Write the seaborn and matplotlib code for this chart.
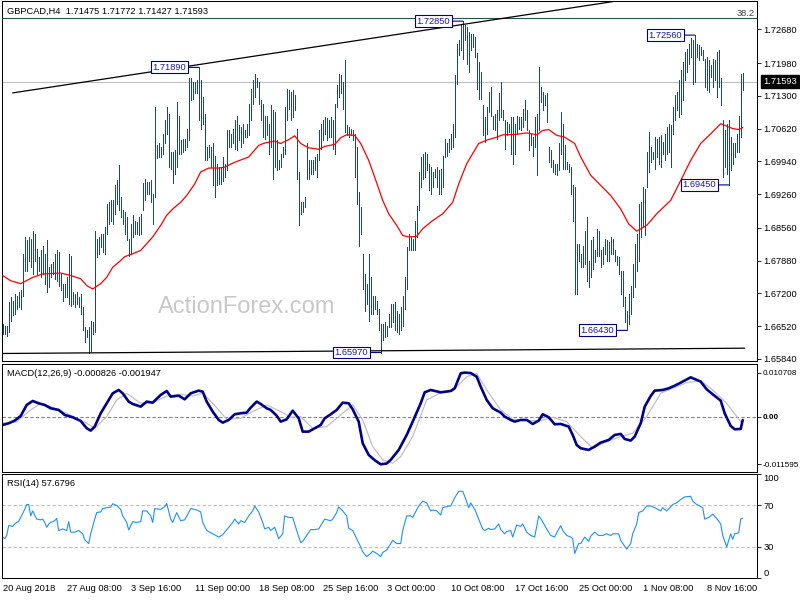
import numpy as np
import matplotlib
matplotlib.use("Agg")
import matplotlib.pyplot as plt
from matplotlib.transforms import blended_transform_factory
import seaborn as sns

sns.set_style("white")
plt.rcParams["font.family"] = ["Liberation Sans", "DejaVu Sans"]

# ---- data (prices stored as pips above 1.6000) ----
base_price = 1.6
high_pips = [
    657, 653, 653, 701, 712, 705, 719, 715, 722, 726,
    802, 837, 830, 837, 833, 850, 844, 812, 795, 809,
    819, 802, 830, 774, 781, 785, 802, 809, 805, 760,
    740, 740, 753, 802, 798, 722, 719, 722, 712, 719,
    691, 649, 643, 649, 663, 660, 850, 833, 837, 844,
    844, 857, 906, 909, 913, 913, 944, 955, 986, 920,
    892, 889, 878, 833, 864, 882, 871, 868, 878, 885,
    948, 958, 951, 951, 955, 927, 1107, 1027, 1031, 1024,
    1051, 1079, 1107, 1093, 1013, 1013, 1017, 1117, 1089, 1038,
    1041, 1041, 1062, 1166, 1166, 1159, 1159, 1162, 1189, 1162,
    1128, 1093, 1024, 1027, 1024, 1031, 1006, 989, 982, 982,
    1003, 989, 1058, 1058, 1051, 1062, 1079, 1089, 1069, 1065,
    1072, 1058, 1072, 1114, 1145, 1162, 1176, 1166, 1159, 1121,
    1114, 1089, 1089, 1072, 1110, 1100, 1096, 1038, 996, 1010,
    1024, 1107, 1145, 1141, 1138, 1141, 1131, 1062, 972, 909,
    909, 920, 1031, 996, 996, 996, 1003, 1010, 1058, 1072,
    1079, 1086, 1083, 1079, 1086, 1079, 1114, 1152, 1176, 1173,
    1159, 1204, 1069, 1065, 1062, 1058, 1051, 1024, 930, 899,
    802, 760, 740, 802, 753, 715, 715, 705, 688, 656,
    656, 660, 653, 677, 698, 698, 701, 684, 677, 691,
    715, 753, 816, 843, 837, 833, 871, 902, 972, 1003,
    1010, 1013, 1010, 989, 982, 972, 979, 982, 975, 979,
    1006, 1041, 1031, 1041, 1051, 1072, 1173, 1238, 1245, 1277,
    1285, 1277, 1273, 1263, 1259, 1259, 1252, 1218, 1200, 1180,
    1110, 1086, 1107, 1138, 1148, 1089, 1093, 1100, 1135, 1159,
    1100, 1079, 1076, 1072, 1086, 1086, 1072, 1089, 1086, 1086,
    1103, 1121, 1100, 1058, 1051, 1044, 1086, 1093, 1190, 1148,
    1138, 1131, 1135, 1024, 1017, 996, 989, 989, 1031, 1096,
    1072, 1027, 992, 989, 982, 944, 940, 823, 823, 802,
    819, 850, 878, 788, 830, 837, 809, 854, 850, 809,
    816, 833, 830, 826, 837, 833, 809, 798, 795, 767,
    767, 712, 684, 719, 736, 781, 823, 843, 906, 909,
    941, 937, 1013, 1055, 1024, 1013, 1044, 1041, 1044, 1048,
    1034, 1051, 1065, 1072, 1069, 1107, 1131, 1138, 1162, 1183,
    1200, 1221, 1228, 1238, 1249, 1245, 1256, 1238, 1235, 1232,
    1225, 1207, 1211, 1204, 1193, 1207, 1204, 1221, 1225, 1166,
    1079, 1058, 1072, 1079, 1044, 1031, 1031, 1051, 1089, 1176,
    1177,
]
low_pips = [
    636, 636, 632, 639, 663, 674, 677, 688, 691, 688,
    715, 767, 767, 788, 774, 760, 788, 760, 767, 753,
    760, 740, 722, 733, 753, 760, 750, 746, 736, 726,
    705, 712, 712, 698, 694, 698, 691, 698, 691, 677,
    643, 618, 629, 597, 601, 636, 639, 795, 802, 816,
    805, 802, 844, 864, 871, 864, 885, 906, 892, 878,
    864, 844, 830, 798, 802, 837, 844, 844, 840, 844,
    892, 913, 927, 927, 909, 864, 920, 1000, 1003, 1003,
    1010, 1031, 1051, 982, 979, 948, 968, 982, 1010, 1010,
    1013, 1017, 1024, 1038, 1121, 1124, 1135, 1135, 1079, 1062,
    1072, 996, 996, 1003, 982, 944, 920, 944, 947, 947,
    954, 961, 975, 1024, 1024, 1031, 1020, 1017, 1038, 1024,
    1031, 1044, 1044, 1048, 1079, 1114, 1128, 1148, 1114, 1079,
    1044, 1041, 1048, 1010, 1024, 958, 982, 975, 979, 982,
    1003, 1010, 1079, 1103, 1079, 1086, 1100, 958, 861, 885,
    889, 899, 958, 958, 968, 968, 975, 961, 996, 1020,
    1038, 1051, 1038, 1044, 1044, 1020, 1010, 1107, 1128, 1135,
    1103, 1055, 1048, 1044, 1048, 1038, 961, 906, 819, 843,
    729, 684, 698, 663, 677, 677, 688, 677, 643, 597,
    622, 629, 632, 649, 649, 660, 643, 639, 636, 643,
    653, 688, 729, 809, 809, 809, 809, 837, 892, 940,
    958, 961, 975, 934, 927, 940, 961, 940, 927, 927,
    940, 1003, 1006, 1013, 1020, 1024, 1044, 1155, 1214, 1225,
    1207, 1245, 1197, 1180, 1225, 1232, 1211, 1145, 1124, 1124,
    1048, 1034, 1051, 1096, 1089, 1062, 1058, 1041, 1079, 1086,
    1079, 1020, 1048, 1055, 1010, 989, 1010, 1051, 1062, 1058,
    1065, 1079, 1058, 1017, 1027, 1006, 1024, 965, 1058, 1117,
    1100, 1110, 1076, 992, 982, 972, 968, 965, 975, 1010,
    979, 979, 979, 972, 927, 871, 719, 719, 788, 774,
    774, 781, 746, 733, 753, 771, 785, 798, 798, 774,
    781, 802, 788, 788, 802, 802, 788, 778, 760, 719,
    694, 660, 643, 656, 677, 712, 733, 767, 788, 837,
    857, 840, 940, 972, 992, 999, 979, 1003, 989, 982,
    1010, 996, 1010, 1013, 982, 1051, 1079, 1100, 1086, 1093,
    1121, 1162, 1180, 1197, 1211, 1155, 1159, 1211, 1204, 1214,
    1204, 1148, 1141, 1138, 1169, 1148, 1162, 1128, 1148, 1110,
    961, 982, 968, 945, 975, 989, 1003, 1013, 1013, 1044,
    1143,
]

ma_bar = [0, 4, 9, 15, 20, 29, 34, 39, 42, 45, 49, 52, 55, 59, 61, 65, 69, 72, 75, 79,
          82, 85, 89, 92, 96, 99, 103, 108, 111, 116, 123, 128, 131, 136, 139, 143, 146,
          149, 153, 158, 161, 166, 169, 172, 176, 179, 183, 186, 190, 193, 197, 200, 203,
          207, 210, 215, 220, 225, 228, 232, 235, 238, 242, 247, 250, 257, 262, 267, 270,
          273, 277, 281, 286, 289, 294, 299, 304, 309, 313, 317, 322, 327, 334, 339, 344,
          349, 354, 359, 362, 365, 368, 370]
ma_pips = [757, 746, 740, 753, 760, 762, 757, 750, 736, 729, 740, 753, 774, 788, 796, 802,
           809, 823, 837, 861, 882, 895, 909, 923, 947, 972, 980, 980, 982, 992, 1003, 1027,
           1032, 1036, 1031, 1039, 1047, 1031, 1022, 1019, 1025, 1029, 1043, 1049, 1048, 1031,
           996, 961, 913, 885, 861, 840, 837, 838, 854, 871, 885, 909, 947, 989, 1010, 1031,
           1038, 1044, 1049, 1050, 1053, 1049, 1058, 1060, 1048, 1044, 1031, 1003, 965, 944,
           923, 895, 864, 849, 861, 885, 913, 954, 996, 1031, 1051, 1072, 1067, 1062, 1060, 1064]

macd_bar = [0, 3, 6, 9, 12, 15, 18, 21, 24, 28, 31, 35, 39, 42, 44, 46, 49, 52, 55, 58,
            60, 63, 65, 69, 72, 75, 79, 82, 84, 88, 91, 94, 98, 100, 102, 105, 108, 110, 113, 116,
            119, 122, 124, 127, 129, 132, 134, 137, 139, 142, 145, 148, 150, 153, 156, 159, 161,
            164, 167, 170, 173, 175, 178, 180, 183, 186, 189, 192, 194, 198, 202, 205, 209, 211,
            214, 219, 224, 226, 229, 231, 234, 237, 239, 242, 245, 249, 251, 254, 256, 259, 262,
            265, 268, 270, 273, 276, 279, 283, 285, 287, 289, 293, 296, 299, 303, 306, 309, 311,
            314, 316, 319, 321, 324, 326, 330, 333, 336, 339, 344, 346, 349, 352, 355, 359, 361,
            364, 366, 369, 370]
macd_val = [-0.00203, -0.00162, -0.00097, 0.00016, 0.00284, 0.00381, 0.00324, 0.00284, 0.00203, 0.00162,
            0.00041, -0.00016, -0.00105, -0.00284, -0.00340, -0.00243, 0.00081, 0.00324, 0.00567, 0.00648,
            0.00567, 0.00365, 0.00308, 0.00243, 0.00365, 0.00340, 0.00527, 0.00624, 0.00486, 0.00510,
            0.00421, 0.00567, 0.00632, 0.00608, 0.00365, 0.00122, -0.00081, -0.00146, -0.00081, 0.00057,
            0.00081, 0.00097, 0.00219, 0.00365, 0.00308, 0.00203, 0.00162, 0.00024, -0.00122, -0.00065,
            0.00146, -0.00041, -0.00365, -0.00365, -0.00284, -0.00203, -0.00041, 0.00057, 0.00162, 0.00340,
            0.00324, 0.00178, -0.00122, -0.00648, -0.00932, -0.01060, -0.01160, -0.01140, -0.01053, -0.00810,
            -0.00446, -0.00122, 0.00324, 0.00591, 0.00648, 0.00591, 0.00624, 0.00689, 0.01053, 0.01071,
            0.01060, 0.00972, 0.00729, 0.00405, 0.00203, 0.00097, 0.0, -0.00081, -0.00122, -0.00081,
            -0.00081, -0.00178, -0.00097, 0.00057, -0.00016, -0.00186, -0.00178, -0.00243, -0.00446, -0.00689,
            -0.00770, -0.00810, -0.00729, -0.00632, -0.00567, -0.00446, -0.00421, -0.00543, -0.00583, -0.00486,
            -0.00162, 0.00243, 0.00502, 0.00632, 0.00648, 0.00689, 0.00753, 0.00826, 0.00956, 0.00915,
            0.00851, 0.00664, 0.00543, 0.00389, 0.00081, -0.00227, -0.00308, -0.00300, -0.00083]

signal_bar = [0, 7, 14, 19, 24, 32, 42, 46, 52, 57, 62, 69, 75, 82, 89, 95, 100, 105, 112, 119,
              125, 132, 139, 144, 149, 155, 162, 169, 175, 180, 185, 190, 195, 199, 205, 212, 219,
              225, 232, 237, 242, 249, 255, 262, 269, 275, 282, 289, 295, 302, 309, 315, 322, 329,
              335, 342, 349, 355, 362, 369, 370]
signal_val = [-0.00162, -0.00122, 0.00162, 0.00324, 0.00243, 0.00081, -0.00162, -0.00284, 0.0, 0.00405,
              0.00567, 0.00324, 0.00340, 0.00502, 0.00543, 0.00502, 0.00567, 0.00324, -0.00065, -0.00041,
              0.00122, 0.00284, 0.00122, -0.00016, 0.0, -0.00284, -0.00243, 0.00041, 0.00284, -0.00081,
              -0.00729, -0.01053, -0.01134, -0.00972, -0.00486, 0.00405, 0.00583, 0.00624, 0.00972, 0.01053,
              0.00648, 0.00162, -0.00065, -0.00097, -0.00097, -0.00016, -0.00122, -0.00486, -0.00770, -0.00608,
              -0.00486, -0.00405, 0.0, 0.00567, 0.00689, 0.00826, 0.00875, 0.00648, 0.00324, -0.00122,
              -0.00195]

rsi_bar = [0, 1, 2, 3, 5, 6, 7, 8, 9, 11, 12, 13, 14, 15, 17, 19, 20, 21, 22, 23,
           24, 26, 27, 28, 30, 32, 33, 34, 36, 38, 40, 41, 43, 44, 46, 47, 49, 50, 52, 54,
           55, 57, 59, 60, 62, 63, 65, 67, 69, 70, 72, 74, 75, 76, 79, 81, 82, 84, 85, 87,
           89, 91, 93, 94, 97, 99, 100, 102, 105, 108, 110, 113, 115, 116, 118, 119, 121, 123, 125, 126,
           128, 130, 131, 133, 134, 136, 138, 140, 141, 143, 145, 147, 149, 150, 152, 154, 156, 158, 160, 161,
           164, 165, 167, 168, 170, 172, 173, 175, 177, 179, 180, 182, 184, 185, 187, 189, 190, 192, 194, 195,
           197, 199, 200, 202, 204, 205, 208, 210, 212, 214, 215, 217, 219, 220, 223, 224, 226, 228, 230, 231,
           233, 234, 236, 238, 240, 241, 243, 244, 246, 248, 249, 251, 252, 254, 255, 257, 259, 260, 262, 264,
           266, 268, 269, 272, 274, 276, 277, 279, 280, 282, 284, 285, 286, 288, 289, 291, 293, 294, 296, 298,
           300, 302, 304, 305, 308, 309, 312, 314, 315, 317, 318, 320, 322, 324, 326, 329, 330, 332, 334, 335,
           337, 339, 341, 344, 345, 347, 348, 350, 351, 353, 355, 357, 359, 360, 362, 364, 365, 366, 368, 369,
           370]
rsi_val = [39.5, 37.9, 41.0, 50.5, 49.8, 52.1, 53.6, 54.6, 58.4, 66.2, 70.9, 70.9, 59.9, 64.7, 56.8, 56.1, 56.8, 53.6, 48.9, 52.1,
           53.6, 55.2, 57.4, 45.8, 47.3, 45.8, 54.3, 44.2, 44.2, 45.8, 42.6, 36.9, 33.2, 42.6, 56.8, 63.1, 63.7, 66.9, 67.8, 68.4,
           71.6, 70.0, 66.2, 59.9, 53.6, 46.4, 54.3, 53.6, 54.3, 64.7, 64.7, 59.9, 53.6, 66.9, 66.2, 68.7, 71.9, 56.8, 53.6, 63.1,
           55.2, 56.1, 63.1, 66.9, 65.6, 63.7, 53.6, 45.8, 42.6, 39.5, 41.7, 48.9, 53.6, 56.8, 52.1, 55.2, 53.6, 59.9, 64.7, 69.4,
           63.7, 53.6, 47.3, 48.9, 45.8, 48.9, 37.9, 42.6, 59.9, 58.4, 58.4, 45.8, 34.1, 35.4, 41.0, 46.7, 46.7, 47.3, 53.6, 56.8,
           55.2, 56.8, 63.1, 68.7, 64.7, 59.9, 48.0, 45.8, 37.9, 30.0, 25.3, 20.6, 23.7, 25.9, 23.7, 20.6, 24.6, 26.9, 33.2, 36.3,
           33.2, 33.2, 45.8, 59.9, 59.9, 58.4, 69.4, 74.1, 72.5, 64.7, 65.6, 64.7, 60.6, 67.8, 69.4, 69.4, 77.3, 83.6, 83.6, 78.8,
           67.8, 72.5, 66.2, 56.8, 47.3, 45.8, 48.0, 46.7, 47.3, 52.1, 46.7, 42.6, 44.9, 45.8, 39.5, 51.1, 49.8, 52.1, 44.2, 41.0,
           39.5, 59.9, 57.4, 47.3, 41.0, 39.5, 43.6, 50.5, 45.8, 41.0, 39.5, 37.9, 23.7, 33.2, 33.2, 39.5, 35.4, 40.4, 44.2, 41.0,
           41.0, 42.6, 41.0, 42.6, 42.6, 36.3, 27.8, 33.2, 42.6, 52.1, 63.1, 64.7, 69.4, 69.4, 67.8, 64.7, 67.8, 64.7, 68.7, 70.9,
           72.5, 75.7, 78.2, 78.8, 74.1, 70.9, 70.0, 67.8, 56.8, 58.4, 61.5, 57.4, 52.1, 41.0, 30.0, 42.6, 37.3, 42.6, 43.6, 56.8,
           57.68]

swing_bars = [98, 230, 346, 189, 312, 363]
swing_prices = [1.71890, 1.72850, 1.72560, 1.65970, 1.66430, 1.69450]

upper_trend_bars = [5, 305]
upper_trend_pips = [1136, 1325.5]
lower_trend_bars = [0, 371]
lower_trend_pips = [595, 606]

last_price = 1.71593
fib_level = 1.72925
fib_label = "38.2"
price_ticks = [1.72680, 1.71980, 1.71300, 1.70620, 1.69940, 1.69260, 1.68560,
               1.67880, 1.67200, 1.66520, 1.65840]
macd_ticks = [0.010708, 0.0, -0.011595]
macd_tick_labels = ["0.010708", "0.00", "-0.011595"]
rsi_ticks = [100, 70, 30, 0]
time_tick_bars = list(range(0, 353, 32))
time_tick_labels = ["20 Aug 2018", "27 Aug 08:00", "3 Sep 16:00", "11 Sep 00:00",
                    "18 Sep 08:00", "25 Sep 16:00", "3 Oct 00:00", "10 Oct 08:00",
                    "17 Oct 16:00", "25 Oct 00:00", "1 Nov 08:00", "8 Nov 16:00"]

n = min(len(high_pips), len(low_pips))
bars = np.arange(n)
highs = base_price + np.array(high_pips[:n]) / 10000
lows = base_price + np.array(low_pips[:n]) / 10000
ma_price = base_price + np.array(ma_pips) / 10000

FS = 6.7
BAR_COLOR = "#1d4a6a"

fig = plt.figure(figsize=(8, 6), dpi=100)
fig.patch.set_facecolor("white")
ax = fig.add_axes([0.0025, 0.39833, 0.94375, 0.6])
ax_macd = fig.add_axes([0.0025, 0.21383, 0.94375, 0.1795])
ax_rsi = fig.add_axes([0.0025, 0.03667, 0.94375, 0.17283])

for a in (ax, ax_macd, ax_rsi):
    a.set_xlim(-0.35, 377.15)
    for s in a.spines.values():
        s.set_color("black")
        s.set_linewidth(0.75)
    a.yaxis.tick_right()
    a.tick_params(axis="y", length=3, width=0.6, pad=1.5, labelsize=FS, colors="black")
    a.set_facecolor("white")

# ---- price panel ----
ax.set_ylim(1.65794, 1.73268)
ax.text(0.3245, 0.15, "ActionForex.com", transform=ax.transAxes, fontsize=17,
        color="#c8c8c8", ha="center", va="center", zorder=0)
ax.axhline(last_price, color="#c0c0c0", lw=0.8, zorder=1)
ax.axhline(fib_level, color="#2f4f4f", lw=0.8, zorder=1)
ax.text(0.997, fib_level, fib_label, transform=blended_transform_factory(ax.transAxes, ax.transData),
        ha="right", va="bottom", fontsize=FS, color="#404040")
ax.vlines(bars, lows, highs, colors=BAR_COLOR, linewidth=0.5, antialiased=False, zorder=2)
sns.lineplot(x=ma_bar, y=ma_price, ax=ax, color="red", lw=0.9, estimator=None, sort=False, zorder=3)
ax.plot(upper_trend_bars, base_price + np.array(upper_trend_pips) / 10000, color="black", lw=0.9, zorder=4)
ax.plot(lower_trend_bars, base_price + np.array(lower_trend_pips) / 10000, color="black", lw=0.9, zorder=4)

for b, p in zip(swing_bars, swing_prices):
    ax.annotate(f"{p:.5f}", xy=(b, p), xytext=(-9, 0), textcoords="offset points",
                ha="right", va="center", fontsize=FS, color="#1a1aa0", zorder=5,
                bbox=dict(boxstyle="square,pad=0.15", fc="white", ec="#000080", lw=0.8),
                arrowprops=dict(arrowstyle="-", color="#000080", lw=0.8,
                                shrinkA=0, shrinkB=0, relpos=(1, 0.5)))

ax.set_yticks(price_ticks)
ax.set_yticklabels([f"{t:.5f}" for t in price_ticks])
ax.set_xticks([])
ax.text(1.008, last_price, f"{last_price:.5f}", transform=blended_transform_factory(ax.transAxes, ax.transData),
        ha="left", va="center", fontsize=FS, color="white", clip_on=False,
        bbox=dict(boxstyle="square,pad=0.2", fc="black", ec="black"))
ax.text(0.0066, 0.9708, "GBPCAD,H4  1.71475 1.71772 1.71427 1.71593", transform=ax.transAxes,
        ha="left", va="center", fontsize=FS, color="black")

# ---- MACD panel ----
ax_macd.set_ylim(-0.0134, 0.0128)
ax_macd.axhline(0, color="#808080", lw=0.8, ls=(0, (3, 2)))
sns.lineplot(x=signal_bar, y=signal_val, ax=ax_macd, color="#c0c0c0", lw=0.9, estimator=None, sort=False)
sns.lineplot(x=macd_bar, y=macd_val, ax=ax_macd, color="#000088", lw=1.9, estimator=None, sort=False)
ax_macd.set_yticks(macd_ticks)
ax_macd.set_yticklabels(macd_tick_labels)
ax_macd.tick_params(axis="y", labelsize=5.9, pad=1.0)
ax_macd.get_yticklabels()[1].set_fontweight("bold")
ax_macd.set_xticks([])
ax_macd.set_xlabel("")
ax_macd.set_ylabel("")
ax_macd.text(0.0066, 0.9118, "MACD(12,26,9) -0.000826 -0.001947", transform=ax_macd.transAxes,
             ha="left", va="center", fontsize=FS, color="black")

# ---- RSI panel ----
ax_rsi.set_ylim(0, 100)
for lvl in (70, 30):
    ax_rsi.axhline(lvl, color="#c0c0c0", lw=0.8, ls=(0, (3, 2)))
sns.lineplot(x=rsi_bar, y=rsi_val, ax=ax_rsi, color="#1e90ff", lw=0.8, estimator=None, sort=False)
ax_rsi.set_yticks(rsi_ticks)
ax_rsi.set_yticklabels([str(t) for t in rsi_ticks])
ylabs = ax_rsi.get_yticklabels()
ylabs[0].set_verticalalignment("top")
ylabs[-1].set_verticalalignment("bottom")
ax_rsi.set_xticks(time_tick_bars)
ax_rsi.set_xticklabels(time_tick_labels, ha="left")
ax_rsi.tick_params(axis="x", length=3, width=0.6, pad=1.5, labelsize=FS, colors="black")
ax_rsi.set_xlabel("")
ax_rsi.set_ylabel("")
ax_rsi.text(0.0066, 0.9065, "RSI(14) 57.6796", transform=ax_rsi.transAxes,
            ha="left", va="center", fontsize=FS, color="black")

ax.set_xlabel("")
ax.set_ylabel("")

fig.savefig("out.png", dpi=100)
